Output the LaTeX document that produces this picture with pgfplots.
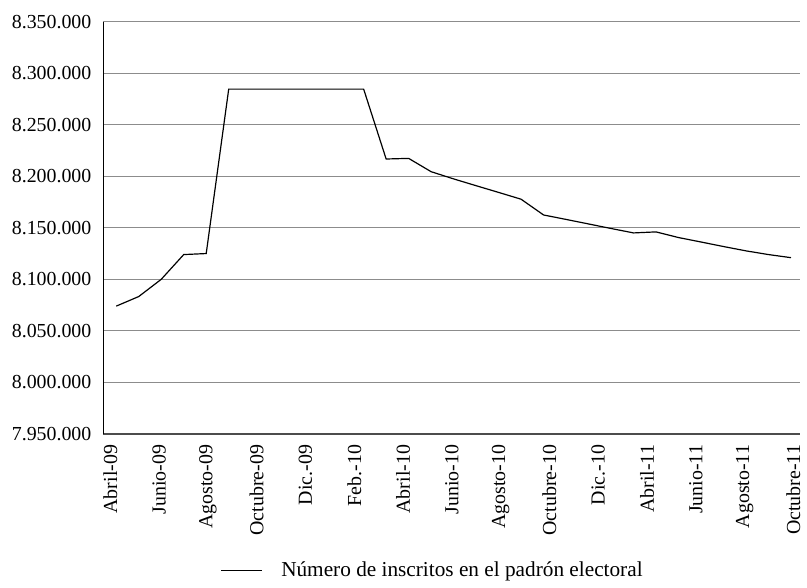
\documentclass[border=0pt]{standalone}
\usepackage{fontspec}
\setmainfont{Liberation Serif}
\usepackage{pgfplots}
\pgfplotsset{compat=1.18}
\begin{document}
\begin{tikzpicture}
\begin{axis}[
  scale only axis, width=350.5pt, height=207.5pt,
  xmin=-0.574, xmax=30.398, ymin=7950000, ymax=8350000,
  ytick={7950000,8000000,8050000,8100000,8150000,8200000,8250000,8300000,8350000},
  scaled y ticks=false,
  /pgf/number format/fixed,
  /pgf/number format/1000 sep={.},
  /pgf/number format/assume math mode=true,
  yticklabel style={xshift=-2.5pt},
  xtick={-0.265,1.904,4.074,6.243,8.413,10.582,12.751,14.921,17.090,19.260,21.429,23.598,25.768,27.937,30.107},
  xticklabels={Abril-09,Junio-09,Agosto-09,Octubre-09,Dic.-09,Feb.-10,Abril-10,Junio-10,Agosto-10,Octubre-10,Dic.-10,Abril-11,Junio-11,Agosto-11,Octubre-11},
  xticklabel style={rotate=90, anchor=east, xshift=-2pt},
  tick style={draw=none},
  axis line style={draw=none},
  ymajorgrids, major grid style={draw=black!45, line width=0.5pt},
  clip=false,
  legend style={draw=none, at={(rel axis cs:0.474,-0.331)}, anchor=center, fill=none,
    font=\fontsize{10.7}{13}\selectfont},
  legend image code/.code={\draw[#1] (0pt,0pt) -- (20.5pt,0pt);},
  legend style={nodes={inner sep=2pt}},
]
\addplot[black, line width=0.6pt] coordinates {
(0,8074000) (1,8083300) (2,8100000) (3,8124000) (4,8125000) (5,8284500)
(6,8284500) (7,8284500) (8,8284500) (9,8284500) (10,8284500) (11,8284500)
(12,8216700) (13,8217300) (14,8204400) (15,8197400) (16,8190800) (17,8184300)
(18,8177700) (19,8162400) (20,8158100) (21,8153700) (22,8149300) (23,8145000)
(24,8146000) (25,8140500) (26,8136200) (27,8131800) (28,8127600) (29,8124000)
(30,8121000)
};
\addlegendentry{\hspace{7.5pt}Número de inscritos en el padrón electoral}
\draw[black!70, line width=0.8pt] (rel axis cs:0,0) -- (rel axis cs:1,0);
\draw[black, line width=0.5pt] (rel axis cs:0,0) -- (rel axis cs:0,1);
\coordinate (O) at (rel axis cs:0,0);
\end{axis}
\path (O) ++(-52pt,-74.15pt) rectangle ++(403.5pt,292.5pt);
\end{tikzpicture}
\end{document}
